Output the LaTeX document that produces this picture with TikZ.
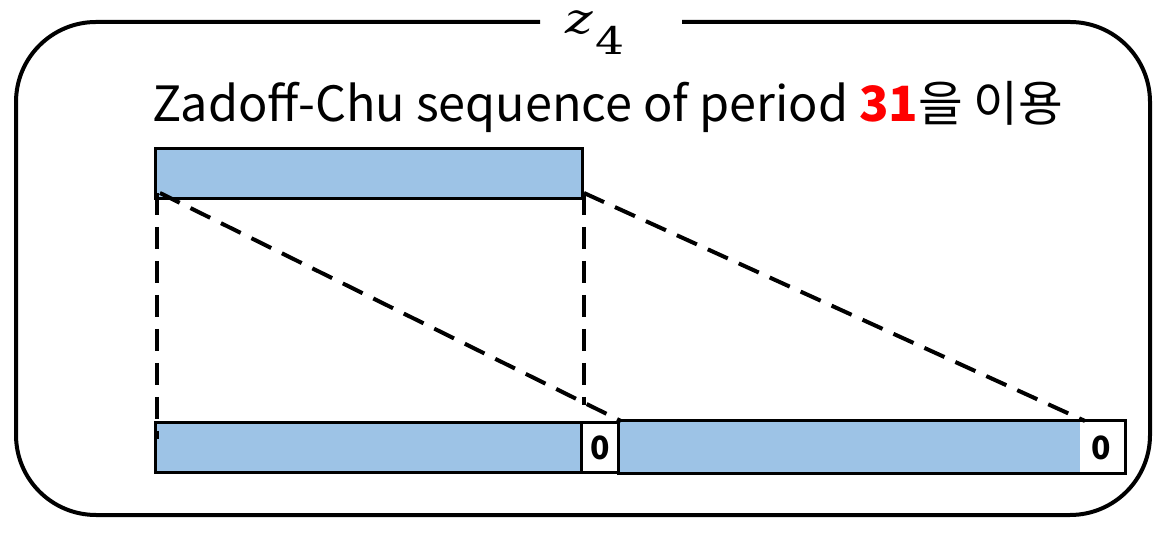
\documentclass[tikz,border=0pt]{standalone}
\usepackage{fontspec}
\setmainfont{Noto Sans CJK KR}
\newfontfamily\symfont{DejaVu Serif}
\usepackage{tikz}
\usetikzlibrary{positioning, calc}
\definecolor{barblue}{HTML}{9DC3E6}
\definecolor{numred}{HTML}{FF0000}
\tikzset{
  bar/.style={draw=black, line width=1.5pt, fill=barblue, inner sep=0pt, anchor=north west},
  zbox/.style={draw=black, line width=1.5pt, fill=white, inner sep=0pt, anchor=north west,
    font=\bfseries\fontsize{16}{16}\selectfont},
  guide/.style={line width=2pt, dash pattern=on 11pt off 6pt},
  frame/.style={line width=2pt, rounded corners=40pt},
}

\begin{document}
\begin{tikzpicture}[x=0.5pt, y=-0.5pt]
  \useasboundingbox (0,0) rectangle (1166,533);
  % outer frame with a gap for the label
  \coordinate (gl) at (540,22);
  \coordinate (gr) at (682,22);
  \draw[frame] (gl) -- (16,22) -- (16,515) -- (1150,515) -- (1150,22) -- (gr);
  \node[anchor=base west, inner sep=0pt] (lab) at (565,34)
    {\symfont\fontsize{21}{21}\selectfont\scalebox{1.25}[1]{\itshape z}\kern1pt\raisebox{-10.5pt}{\scalebox{1.2}[1]{\fontsize{19}{19}\selectfont 4}}};
  \node[anchor=base west, inner sep=0pt, font=\fontsize{24.3}{24.3}\selectfont] (ttl) at (152,122)
    {Zadoff-Chu sequence of period \textbf{\textcolor{numred}{31}}을 이용};
  % source sequence
  \node[bar, minimum width=213.5pt, minimum height=25pt] (src) at (154,147) {};
  % extended sequence
  \node[bar, minimum width=213pt, minimum height=25pt] (seg1) at (154,421) {};
  \node[zbox, minimum width=19pt, minimum height=25pt] (z1) at (580,421) {0};
  \node[bar, draw=none, minimum width=230pt, minimum height=25pt] (seg2) at (618,421) {};
  \node[zbox, draw=none, minimum width=22pt, minimum height=25pt] (z2) at (1078,421) {0};
  \draw[line width=1.5pt] (seg2.north west) rectangle (z2.south east);
  % mapping guides
  \draw[guide] ($(src.south west)+(3,-7)$) -- ($(seg1.north west)+(3,18)$);
  \draw[guide] ($(src.south east)+(0,-7)$) -- ($(seg1.north east)+(1,-16)$);
  \draw[guide] ($(src.south west)+(6,-7)$) -- (z1.north east);
  \draw[guide] ($(src.south east)+(0,-7)$) -- ($(z2.north west)+(7,0)$);
\end{tikzpicture}
\end{document}
